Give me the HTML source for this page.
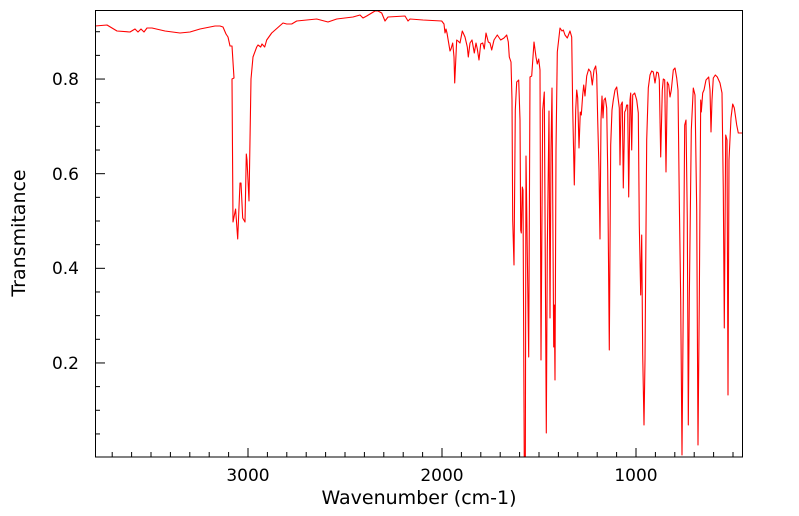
<!DOCTYPE html>
<html><head><meta charset="utf-8"><style>
html,body{margin:0;padding:0;background:#fff;}
svg{display:block;font-family:"DejaVu Sans","Liberation Sans",sans-serif;}
</style></head><body>
<svg id="s" width="799" height="516" viewBox="0 0 799 516" xmlns="http://www.w3.org/2000/svg">
<rect x="0" y="0" width="799" height="516" fill="#fff"/>
<defs><clipPath id="c"><rect x="95" y="10" width="648" height="447"/></clipPath></defs>
<polyline clip-path="url(#c)" fill="none" stroke="#ff0000" stroke-width="1.1" stroke-linejoin="round" points="
95,26 107,25 117,31 130,32 135,29 138,32 141,29 144,32 147,28 152,28 165,31 180,33 190,32 200,29 210,27 215,26 220,26 223,27 226,34 228,37 230,46 232,46 233,62 234,78 232,79 233,222 235.6,209 237.7,239 240,183 241,183 242.7,218 245,222 246.3,154 247,160 249,201 251,79 253,57 256.7,47 258,45 260.7,47 262,44 264.7,47 266.7,40 271.7,33 283,23 286.7,24 291.7,24 296.7,21 316.7,19 328,22 336.7,19 353,17 360,15 363,18 366.7,16 375,11 378,11 381.7,13 385,21 388,17 405,16 408,21 410,19 423,20 441.7,21 444,24 445,33 446,29 447,33 450,51 451,49 452.7,43 454,57 454.7,83 456.7,40 458,41 460,43 462.3,31 465,37 467.3,47 468.3,57 470,43 472,40 474.3,53 476,43 477.3,49 479,60 480.7,44 482.7,43 484.3,49 486,33 488.3,42 490,43 491.7,50 494,40 497.3,35 500.7,40 504,38 506.7,35 508.3,42 509.3,57 511,62 512,100 512.7,220 514,265 515.3,110 516.7,82 518.7,80 520,120 520.7,230 521.3,233 522.3,187 523,190 524.3,470 525.3,470 526,156 528.7,357 530,77 531.7,76 534,42 536,57 537.3,64 538.7,59 540,70 541,360 542.7,110 544.3,92 546.3,433 547.3,250 549,111 550,318 551,150 552,88 553.7,347 554.3,305 555,380 556,150 557.3,52 560,28 562,31 563.3,30 565,35 567.3,38 570,31 571.7,37 572.7,108 574.3,185 575.7,110 576.7,90 577.7,98 579,148 580.3,112 581.3,115 582.7,95 583.7,85 585,96 586.7,76 588.7,69 590.7,72 592.3,85 594,70 595.7,66 596.7,75 597.7,120 599,170 600,239 601,120 602,96 603,118 604,100 605.3,98 606.7,108 607.7,170 609.3,350 610.7,145 612,110 613.3,100 615,90 616.7,87 618.3,100 619.3,108 620,165 621,105 622.3,102 623.3,188 624.7,112 625.7,110 626.7,105 627.7,105 628.7,197 630,100 630.7,93 631.7,150 632.7,95 634.7,93 636.7,100 638.3,113 639.3,225 640.7,295 641.7,235 642.7,355 644,425 645,360 646.7,140 648.3,88 650,75 651.7,71 653.3,72 655,83 656.7,72 658.3,73 659.3,80 660.7,157 662.3,90 663.3,79 664.7,80 666,172 667.3,82 668.7,85 670,97 671.3,90 673.3,70 675,68 676.7,78 678,90 679.3,200 680.7,300 682,455 683.3,300 684.7,125 686,120 687.3,220 688.3,425 689.3,300 691.3,130 693.3,88 695,95 696.7,210 698,445 699.3,300 700.7,100 701.3,112 702.7,93 704,90 706,80 708.7,77 710,90 711,132 712,100 713.3,78 715.3,75 717.3,77 720,83 722,93 723.3,190 724.3,328 725.7,135 727,140 728,395 729,160 731,118 732.7,104 734.3,108 736.7,125 738.3,133 743,133"/>
<g id="ticks" stroke="#000" stroke-width="1"></g>
<rect x="95.5" y="10.5" width="647" height="446.5" fill="none" stroke="#000" stroke-width="1"/>
<g font-size="17" fill="#000">
<text x="248" y="481" text-anchor="middle">3000</text>
<text x="442" y="481" text-anchor="middle">2000</text>
<text x="636" y="481" text-anchor="middle">1000</text>
<text x="79" y="85" text-anchor="end">0.8</text>
<text x="79" y="180" text-anchor="end">0.6</text>
<text x="79" y="274" text-anchor="end">0.4</text>
<text x="79" y="369" text-anchor="end">0.2</text>
<text x="419" y="504" text-anchor="middle" font-size="19">Wavenumber (cm-1)</text>
<text transform="translate(25,233) rotate(-90)" text-anchor="middle" font-size="19">Transmitance</text>
</g>
</svg>
<script>
var g=document.getElementById('ticks'),h='';
for(var v=500;v<=3700;v+=100){var x=636+(1000-v)*0.194;var L=(v%1000==0)?9:5;h+='<line x1="'+x+'" y1="457" x2="'+x+'" y2="'+(457-L)+'"/>';}
for(var i=1;i<=18;i++){var y=457.6-i*23.66;if(y<11)break;var L=(i%4==0)?10:5;h+='<line x1="95" y1="'+y+'" x2="'+(95+L)+'" y2="'+y+'"/>';}
g.innerHTML=h;
</script>
</body></html>
